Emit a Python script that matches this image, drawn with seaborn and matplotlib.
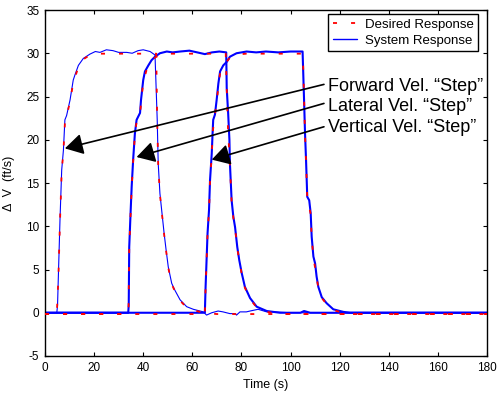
import matplotlib
matplotlib.use("Agg")
import matplotlib.pyplot as plt
import seaborn as sns
import pandas as pd

# ---------------- data ----------------
# Forward velocity step
t_fwd = [0, 4.8, 5.1, 5.4, 6.1, 6.8, 7.5, 8.1, 8.8, 10.2, 11.5, 12.2, 13.6, 15.6, 18.3, 20.5,
         22.4, 25, 27.7, 30, 33.3, 35.5, 37.9, 40, 42.8, 44.8, 45.7, 46.1, 46.8, 47.5, 48.5,
         49.3, 50.2, 51.6, 52.9, 55, 57.7, 60.4, 64.5, 65.8, 67.9, 70.5, 72.5, 75.3, 77.4,
         78, 79.4, 82, 83.5, 86.8, 90.3, 93, 100, 180]
sys_fwd = [0, 0, 0.8, 3.8, 10.7, 16.5, 18.8, 22.3, 22.8, 24.6, 26.9, 27.5, 28.6, 29.4, 29.9, 30.2,
           30.1, 30.4, 30.3, 30.1, 30.1, 30.0, 30.3, 30.4, 30.2, 29.8, 22.3, 17.3, 13.8, 11.9, 9.2,
           7.3, 5.3, 3.4, 2.6, 1.5, 0.7, 0.4, 0.1, -0.27, 0.0, 0.2, 0.1, -0.1, -0.1,
           -0.27, 0.1, 0.1, 0.2, 0.4, 0.1, 0.1, 0, 0]
td_fwd = [0, 4.8, 5.4, 6.1, 6.8, 7.5, 8.1, 10.2, 11.5, 13.6, 15.6, 18.3, 22, 45.3, 45.7, 46.1,
          46.8, 47.5, 48.5, 49.3, 50.2, 51.6, 52.9, 55, 57.7, 60.4, 64.5, 70, 180]
des_fwd = [-0.15, -0.15, 3.6, 10.5, 16.3, 18.7, 21.9, 24.4, 26.6, 28.4, 29.3, 29.8, 29.95, 29.95,
           22.0, 17.2, 13.7, 11.8, 9.1, 7.2, 5.2, 3.3, 2.5, 1.4, 0.6, 0.3, 0.0, -0.15, -0.15]

# Lateral velocity step
t_lat = [0, 33.9, 34.1, 34.3, 34.9, 35.3, 35.9, 36.6, 37.3, 38.7, 39.1, 40, 40.7, 42.1, 43.4,
         44.8, 46.8, 49.6, 52, 55, 58.8, 62, 65.1, 68, 71, 73.8, 74.0, 74.6, 75.1, 75.3, 76,
         76.7, 77.4, 78.3, 79.1, 80.1, 81.4, 83.5, 86.2, 90.3, 95.7, 104, 105.5, 108, 180]
sys_lat = [0, 0, 0.9, 7.6, 11.9, 14.6, 17.7, 20.7, 22.3, 23.1, 24.6, 26.9, 27.9, 28.6, 29.2,
           29.6, 30.0, 30.2, 30.1, 30.2, 30.3, 30.1, 29.9, 30.1, 30.2, 30.1, 26.0, 23.0, 20.0, 17.3, 13.0,
           11.1, 9.9, 7.6, 6.1, 4.6, 3.0, 1.7, 0.7, 0.2, 0, 0, 0.2, 0, 0]
td_lat = [0, 34.0, 34.3, 34.9, 35.3, 35.9, 36.6, 37.3, 38.7, 40, 41.5, 43.4, 44.8, 47, 50, 73.6,
          74.4, 75.3, 76, 76.7, 77.4, 78.3, 79.1, 80.1, 81.4, 83.5, 86.2, 90.3, 95.7, 180]
des_lat = [-0.15, -0.15, 7.4, 11.7, 14.4, 17.5, 20.5, 22.1, 23.0, 26.7, 28.2, 29.1, 29.5, 29.85,
           29.95, 29.95, 22.0, 17.1, 12.8, 11.0, 9.8, 7.5, 6.0, 4.5, 2.9, 1.6, 0.6, 0.1, -0.15, -0.15]

# Vertical velocity step
t_ver = [0, 65.1, 65.4, 65.8, 66.2, 66.8, 67.2, 67.9, 68.3, 68.5, 69.2, 69.9, 70.6, 71.3, 72.6,
         74, 75.3, 78, 82.1, 86, 90, 95, 100, 104.9, 105.5, 105.9, 106.3, 106.8, 107.6, 108.2,
         108.6, 109.3, 110, 110.6, 111.3, 112.7, 114.7, 117.4, 121.5, 124.2, 180]
sys_ver = [0, 0, 3.0, 6.1, 9.2, 11.9, 15.3, 18.4, 21.1, 22.3, 22.9, 24.6, 26.5, 27.9, 28.6,
           29.0, 29.6, 30.0, 30.2, 30.1, 30.2, 30.1, 30.2, 30.2, 24.6, 20.7, 17.7, 13.4, 13.0, 11.5,
           8.8, 6.5, 5.7, 4.2, 3.0, 1.8, 1.1, 0.4, 0.1, 0, 0]
td_ver = [0, 65.1, 65.4, 65.8, 66.2, 66.8, 67.2, 67.9, 68.3, 69.9, 71.3, 72.6, 75.3, 78, 82, 105.0,
          105.9, 106.3, 106.8, 108.2, 108.6, 109.3, 110.6, 111.3, 112.7, 114.7, 117.4, 121.5, 124.2, 180]
des_ver = [-0.15, -0.15, 2.9, 6.0, 9.1, 11.8, 15.1, 18.2, 20.9, 24.4, 27.7, 28.5, 29.5, 29.85, 29.95,
           29.95, 20.6, 17.6, 13.3, 11.4, 8.7, 6.4, 4.1, 2.9, 1.7, 1.0, 0.3, 0.0, -0.15, -0.15]

# Annotations
ann_labels = ["Forward Vel. \u201cStep\u201d", "Lateral Vel. \u201cStep\u201d", "Vertical Vel. \u201cStep\u201d"]
ann_tip_t = [8.1, 37.3, 67.9]
ann_tip_v = [19.0, 18.0, 17.7]
ann_tail_t = [113.6, 113.6, 113.6]
ann_tail_v = [26.4, 24.2, 21.5]
ann_text_t = [115.2, 115.2, 115.2]
ann_text_v = [26.1, 23.8, 21.4]

legend_labels = ["Desired Response", "System Response"]
x_ticks = list(range(0, 181, 20))
y_ticks = list(range(-5, 36, 5))

# ---------------- style ----------------
sns.set_theme(style="ticks")
plt.rcParams["font.family"] = ["Liberation Sans", "DejaVu Sans"]
plt.rcParams.update({
    "xtick.direction": "in", "ytick.direction": "in",
    "xtick.top": True, "ytick.right": True,
    "axes.linewidth": 1.0, "lines.scale_dashes": False,
    "axes.unicode_minus": False,
    "axes.edgecolor": "black", "xtick.color": "black", "ytick.color": "black",
    "text.color": "black", "axes.labelcolor": "black",
})

BLUE = "#0000ff"
RED = "#ff0000"
DASH = (0, (2.9, 10.1))

fig = plt.figure(figsize=(4.97, 3.94), dpi=100)
fig.patch.set_facecolor("white")
ax = fig.add_axes([45 / 497, 1 - 356 / 394, 442 / 497, 346 / 394])
ax.set_facecolor("white")

sys_sets = [(t_fwd, sys_fwd, 0.8), (t_lat, sys_lat, 1.5), (t_ver, sys_ver, 1.5)]
des_sets = [(td_fwd, des_fwd), (td_lat, des_lat), (td_ver, des_ver)]

for t, v, lw in sys_sets:
    df = pd.DataFrame({"t": t, "v": v})
    sns.lineplot(data=df, x="t", y="v", ax=ax, color=BLUE, linewidth=lw,
                 sort=False, estimator=None, legend=False, zorder=2)

for t, v in des_sets:
    df = pd.DataFrame({"t": t, "v": v})
    sns.lineplot(data=df, x="t", y="v", ax=ax, color=RED, linewidth=1.3,
                 sort=False, estimator=None, legend=False, zorder=3)
    ax.lines[-1].set_linestyle(DASH)

# annotations
for lab, tt, tv, lt, lv, xt, yt in zip(ann_labels, ann_tip_t, ann_tip_v, ann_tail_t, ann_tail_v,
                                       ann_text_t, ann_text_v):
    ax.annotate("", xy=(tt, tv), xytext=(lt, lv),
                arrowprops=dict(arrowstyle="-|>,head_length=0.55,head_width=0.32",
                                mutation_scale=20, color="black", lw=1.2,
                                shrinkA=0, shrinkB=0), zorder=5)
    ax.text(xt, yt, lab, ha="left", va="center", fontsize=13, color="black", zorder=5)

ax.set_xlim(0, 180)
ax.set_ylim(-5, 35)
ax.set_xticks(x_ticks)
ax.set_yticks(y_ticks)
ax.tick_params(axis="both", which="major", length=3, width=0.8, labelsize=8.5, pad=4)
ax.set_xlabel("Time (s)", fontsize=9, labelpad=4)
ax.set_ylabel("\u0394  V  (ft/s)", fontsize=9)
ax.yaxis.set_label_coords(-0.068, 0.5)
for s in ax.spines.values():
    s.set_visible(True)
    s.set_color("black")
    s.set_linewidth(1.0)

h_des = plt.Line2D([], [], color=RED, linewidth=1.3, linestyle=DASH)
h_sys = plt.Line2D([], [], color=BLUE, linewidth=1.0)
leg = ax.legend([h_des, h_sys], legend_labels, loc="upper right",
                bbox_to_anchor=(0.98, 0.988), borderaxespad=0, fontsize=9.5,
                handlelength=1.8, handletextpad=0.6, labelspacing=0.25,
                borderpad=0.35, fancybox=False, framealpha=1, edgecolor="black")
leg.get_frame().set_linewidth(1.0)

fig.savefig("out.png", dpi=100, facecolor="white")
